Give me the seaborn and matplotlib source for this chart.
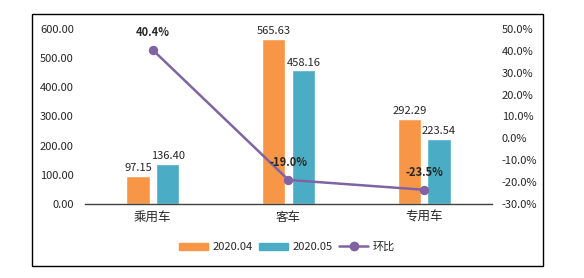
import matplotlib
matplotlib.use("Agg")
import matplotlib.pyplot as plt
import seaborn as sns
import pandas as pd
import numpy as np
from matplotlib.patches import Rectangle
from matplotlib.lines import Line2D
from matplotlib.patches import Patch
from matplotlib.ticker import FuncFormatter

categories = ["乘用车", "客车", "专用车"]
series_names = ["2020.04", "2020.05"]
apr_values = [97.15, 565.63, 292.29]
may_values = [136.40, 458.16, 223.54]
mom_pct = [40.4, -19.0, -23.5]
line_name = "环比"

sns.set_theme(style="white")
plt.rcParams['font.family'] = ['Noto Sans CJK SC', 'DejaVu Sans']

c_orange = "#F79646"
c_blue = "#4BACC6"
c_purple = "#8064A2"
txt = "#262626"

df = pd.DataFrame({
    "cat": categories * 2,
    "series": [series_names[0]] * 3 + [series_names[1]] * 3,
    "value": apr_values + may_values,
})

fig = plt.figure(figsize=(5.84, 2.78), dpi=100)
fig.patch.set_facecolor("white")
fig.patches.append(Rectangle((32/584, 1-266/278), (543-32)/584, (266-14)/278,
                             transform=fig.transFigure, fill=False, ec="black", lw=1.0))

ax = fig.add_axes([85/584, 1-204/278, (492-85)/584, (204-29)/278])
sns.barplot(data=df, x="cat", y="value", hue="series", order=categories,
            hue_order=series_names, palette=[c_orange, c_blue], width=0.44, gap=0.22,
            ax=ax, legend=False, saturation=1)
ax.set_ylim(0, 600)
ax.set_yticks(np.arange(0, 601, 100))
ax.yaxis.set_major_formatter(FuncFormatter(lambda v, p: f"{v:.2f}"))
ax.set_xlabel("")
ax.set_ylabel("")
ax.set_xlim(-0.5, 2.5)
for s in ["top", "right", "left"]:
    ax.spines[s].set_visible(False)
ax.spines["bottom"].set_color("#404040")
ax.spines["bottom"].set_linewidth(1.0)
ax.tick_params(axis="y", length=0, labelsize=8, labelcolor=txt, pad=8)
ax.tick_params(axis="x", length=0, labelsize=9, labelcolor=txt, pad=5)
for cont in ax.containers:
    ax.bar_label(cont, fmt="%.2f", fontsize=8, color=txt, padding=2)

ax2 = ax.twinx()
xpos = np.arange(len(categories))
sns.lineplot(x=xpos, y=mom_pct, ax=ax2, color=c_purple, linewidth=1.8,
             marker="o", markersize=6, markeredgecolor=c_purple, legend=False)
ax2.set_ylim(-30, 50)
ax2.set_yticks(np.arange(-30, 51, 10))
ax2.yaxis.set_major_formatter(FuncFormatter(lambda v, p: f"{v:.1f}%"))
ax2.tick_params(axis="y", length=0, labelsize=8, labelcolor=txt, pad=7)
for s in ["top", "right", "left", "bottom"]:
    ax2.spines[s].set_visible(False)
ax2.set_ylabel("")
for x, v in zip(xpos, mom_pct):
    ax2.annotate(f"{v:.1f}%", (x, v), xytext=(0, 8), textcoords="offset points",
                 ha="center", va="bottom", fontsize=8, fontweight="bold", color=txt)

handles = [Patch(color=c_orange), Patch(color=c_blue),
           Line2D([0], [0], color=c_purple, lw=1.8, marker="o", markersize=6)]
fig.legend(handles, series_names + [line_name], loc="center", ncol=3,
           bbox_to_anchor=(287/584, 1-247/278), frameon=False, fontsize=8,
           handlelength=2.6, handleheight=0.6, columnspacing=0.6, handletextpad=0.4)

fig.savefig("out.png", dpi=100, facecolor="white")
